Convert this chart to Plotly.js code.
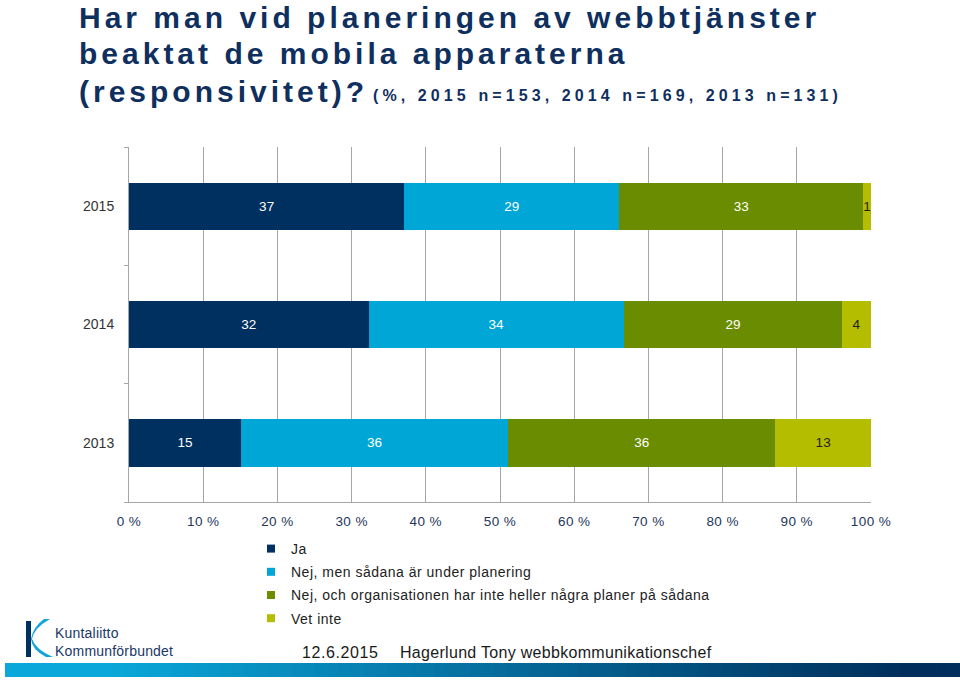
<!DOCTYPE html>
<html>
<head>
<meta charset="utf-8">
<script src="https://cdn.plot.ly/plotly-3.0.1.min.js"></script>
<style>html,body{margin:0;padding:0;background:#fff;}</style>
</head>
<body>
<div id="chart" style="width:960px;height:681px;"></div>
<script>
// ---- data ----
const years = ['2015', '2014', '2013'];
const seriesNames = [
  'Ja',
  'Nej, men sådana är under planering',
  'Nej, och organisationen har inte heller några planer på sådana',
  'Vet inte'
];
const ja = [37.1, 32.3, 15.1];
const underPlanering = [29.0, 34.4, 36.0];
const ingaPlaner = [32.8, 29.4, 36.0];
const vetInte = [1.1, 3.9, 12.9];
const xTicks = [0, 10, 20, 30, 40, 50, 60, 70, 80, 90, 100];

const colors = ['#00305F', '#00A6D6', '#6A8C00', '#B5BD00'];
const textColors = ['#ffffff', '#ffffff', '#ffffff', '#222222'];
const values = [ja, underPlanering, ingaPlaner, vetInte];

// plot area in pixels
const L = 129, R = 871, T = 147, B = 502, W = 960, H = 681;
const px = x => (x - L) / (R - L);
const py = y => (B - y) / (B - T);
const sp = (s, n) => '<span style="letter-spacing:' + n + 'px">' + s + '</span>';

const traces = [];
values.forEach((v, i) => {
  traces.push({
    type: 'bar', orientation: 'h',
    y: years, x: v,
    marker: {color: colors[i], line: {width: 0}},
    texttemplate: '%{x:.0f}',
    textposition: 'inside',
    insidetextanchor: 'middle',
    textangle: 0,
    constraintext: 'none',
    textfont: {family: 'Liberation Sans, Arial, sans-serif', size: 13.5, color: textColors[i]},
    showlegend: false,
    hoverinfo: 'x+y'
  });
});
// legend entries
values.forEach((v, i) => {
  traces.push({
    type: 'scatter', mode: 'markers',
    x: [null], y: [null],
    name: sp(seriesNames[i], 0.5),
    legendgroup: 'g' + i,
    marker: {symbol: 'square', size: 8, color: colors[i]},
    showlegend: true
  });
});

const shapes = [];
// bottom gradient band
const N = 80, gx0 = 5, gx1 = 960, gy0 = 663, gy1 = 677;
const c0 = [0x0A, 0xA8, 0xDA], c1 = [0x00, 0x2E, 0x5C];
for (let k = 0; k < N; k++) {
  const t = k / (N - 1);
  const tt = Math.min(1, Math.max(0, (t - 0.1) / 0.85));
  const c = c0.map((a, j) => Math.round(a + (c1[j] - a) * tt));
  shapes.push({
    type: 'rect', xref: 'paper', yref: 'paper', layer: 'above',
    x0: px(gx0 + (gx1 - gx0) * k / N), x1: px(gx0 + (gx1 - gx0) * (k + 1) / N + 0.8),
    y0: py(gy1), y1: py(gy0),
    fillcolor: 'rgb(' + c.join(',') + ')', line: {width: 0}
  });
}
// logo mark
function pathPx(cmds) {
  return cmds.map(c => typeof c === 'string' ? c : px(c[0]).toFixed(5) + ',' + py(c[1]).toFixed(5)).join(' ');
}
shapes.push({
  type: 'rect', xref: 'paper', yref: 'paper',
  x0: px(26), x1: px(31), y0: py(657), y1: py(621),
  fillcolor: '#00305F', line: {width: 0}
});
shapes.push({
  type: 'path', xref: 'paper', yref: 'paper',
  path: pathPx(['M', [50, 619], 'Q', [34, 628], [32, 639], 'Q', [36, 650], [53, 657],
                'L', [46, 657], 'Q', [32, 650], [31, 639], 'Q', [33, 627], [44, 619], 'Z']),
  fillcolor: '#14A5D8', line: {width: 0}
});

const titleFont = {family: 'Liberation Sans, Arial, sans-serif', size: 30, color: '#0F2F5E'};
const ls = s => '<b>' + sp(s, 4) + '</b>';
const annotations = [
  {text: ls('Har man vid planeringen av webbtjänster'), x: px(77), y: py(17)},
  {text: ls('beaktat de mobila apparaterna'), x: px(77), y: py(54)},
  {text: ls('(responsivitet)?'), x: px(77), y: py(91)}
].map(a => Object.assign(a, {xref: 'paper', yref: 'paper', xanchor: 'left', yanchor: 'middle', showarrow: false, font: titleFont}));
annotations.push({
  text: '<b>' + sp('(%, 2015 n=153, 2014 n=169, 2013 n=131)', 4.1) + '</b>',
  x: px(371), y: py(95), xref: 'paper', yref: 'paper', xanchor: 'left', yanchor: 'middle', showarrow: false,
  font: {family: 'Liberation Sans, Arial, sans-serif', size: 16, color: '#0F2F5E'}
});
const footFont = {family: 'Liberation Sans, Arial, sans-serif', size: 16, color: '#1a1a1a'};
annotations.push({text: sp('12.6.2015', 0.6), x: px(300), y: py(652), xref: 'paper', yref: 'paper', xanchor: 'left', yanchor: 'middle', showarrow: false, font: footFont});
annotations.push({text: sp('Hagerlund Tony webbkommunikationschef', 0.3), x: px(398), y: py(652), xref: 'paper', yref: 'paper', xanchor: 'left', yanchor: 'middle', showarrow: false, font: footFont});
const logoFont = {family: 'Liberation Sans, Arial, sans-serif', size: 14, color: '#1B3766'};
annotations.push({text: sp('Kuntaliitto', 0.2), x: px(54), y: py(632.5), xref: 'paper', yref: 'paper', xanchor: 'left', yanchor: 'middle', showarrow: false, borderpad: 0, font: logoFont});
annotations.push({text: sp('Kommunförbundet', 0.2), x: px(54), y: py(651), xref: 'paper', yref: 'paper', xanchor: 'left', yanchor: 'middle', showarrow: false, borderpad: 0, font: logoFont});

const layout = {
  width: W, height: H,
  margin: {l: L, r: W - R, t: T, b: H - B, pad: 0},
  paper_bgcolor: '#ffffff', plot_bgcolor: '#ffffff',
  barmode: 'stack', bargap: 0.6,
  font: {family: 'Liberation Sans, Arial, sans-serif', size: 13, color: '#333'},
  xaxis: {
    range: [0, 100], tickvals: xTicks, ticktext: xTicks.map(v => sp(v + ' %', 0.4)),
    showgrid: true, gridcolor: '#a6a6a6', gridwidth: 1,
    showline: true, linecolor: '#a6a6a6', linewidth: 1, zeroline: false,
    ticks: '', tickfont: {size: 13.5, color: '#24365A'}, ticklabelstandoff: 7, fixedrange: true
  },
  yaxis: {
    type: 'category', categoryorder: 'array', categoryarray: ['2013', '2014', '2015'],
    showgrid: false, showline: true, linecolor: '#a6a6a6', linewidth: 1,
    ticks: 'outside', tickson: 'boundaries', ticklen: 4, tickcolor: '#a6a6a6',
    tickfont: {size: 14, color: '#333'}, ticklabelstandoff: 11, fixedrange: true
  },
  showlegend: true,
  legend: {
    x: px(251), y: py(533), xanchor: 'left', yanchor: 'top',
    font: {family: 'Liberation Sans, Arial, sans-serif', size: 14, color: '#222'},
    tracegroupgap: 2, bgcolor: 'rgba(0,0,0,0)', borderwidth: 0
  },
  shapes: shapes,
  annotations: annotations
};

Plotly.newPlot('chart', traces, layout, {displayModeBar: false, staticPlot: true});
</script>
</body>
</html>
